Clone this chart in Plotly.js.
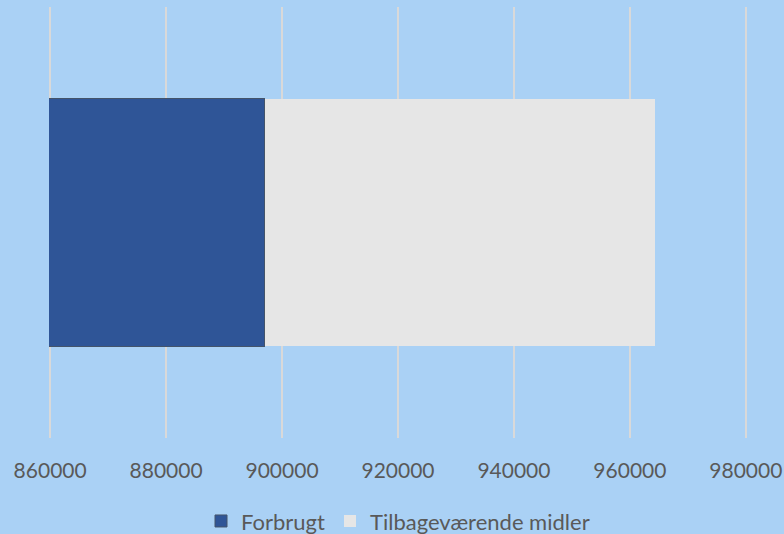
<!DOCTYPE html>
<html>
<head>
<meta charset="utf-8">
<script src="https://cdn.plot.ly/plotly-3.0.1.min.js"></script>
<style>html,body{margin:0;padding:0;background:#AAD1F5;}</style>
</head>
<body>
<div id="chart" style="width:784px;height:534px;"></div>
<script>
const categories = ['Budget'];
const forbrugt = [897000];
const tilbage = [67300];
const seriesNames = ['Forbrugt', 'Tilbageværende midler'];
const tickVals = [860000, 880000, 900000, 920000, 940000, 960000, 980000];

const font = "Lato, 'Open Sans', sans-serif";
const traces = [
  {type: 'bar', orientation: 'h', y: categories, x: forbrugt, name: seriesNames[0],
   marker: {color: '#2F5597', line: {color: '#44546A', width: 1}}},
  {type: 'bar', orientation: 'h', y: categories, x: tilbage, name: seriesNames[1],
   marker: {color: '#E6E6E6', line: {width: 0}}}
];
const layout = {
  width: 784, height: 534,
  paper_bgcolor: '#AAD1F5', plot_bgcolor: '#AAD1F5',
  margin: {l: 49, r: 37, t: 7, b: 96, autoexpand: false},
  barmode: 'stack', bargap: 0.425,
  showlegend: true,
  xaxis: {range: [859800, 980200], tickvals: tickVals, ticktext: tickVals.map(String),
          showgrid: true, gridcolor: '#D9D9D9', gridwidth: 1.5, zeroline: false,
          showline: false, ticks: '', ticklen: 0, ticklabelstandoff: 18,
          ticklabeloverflow: 'allow',
          tickfont: {family: font, size: 21, color: '#595959'}},
  yaxis: {visible: false, range: [-0.5, 0.5]},
  legend: {orientation: 'h', traceorder: 'normal', x: 0.5, xanchor: 'center',
           yref: 'container', y: 0.024, yanchor: 'middle', itemwidth: 30,
           font: {family: font, size: 22, color: '#595959'}, bgcolor: 'rgba(0,0,0,0)'}
};
Plotly.newPlot('chart', traces, layout, {displayModeBar: false, staticPlot: true});
</script>
</body>
</html>
